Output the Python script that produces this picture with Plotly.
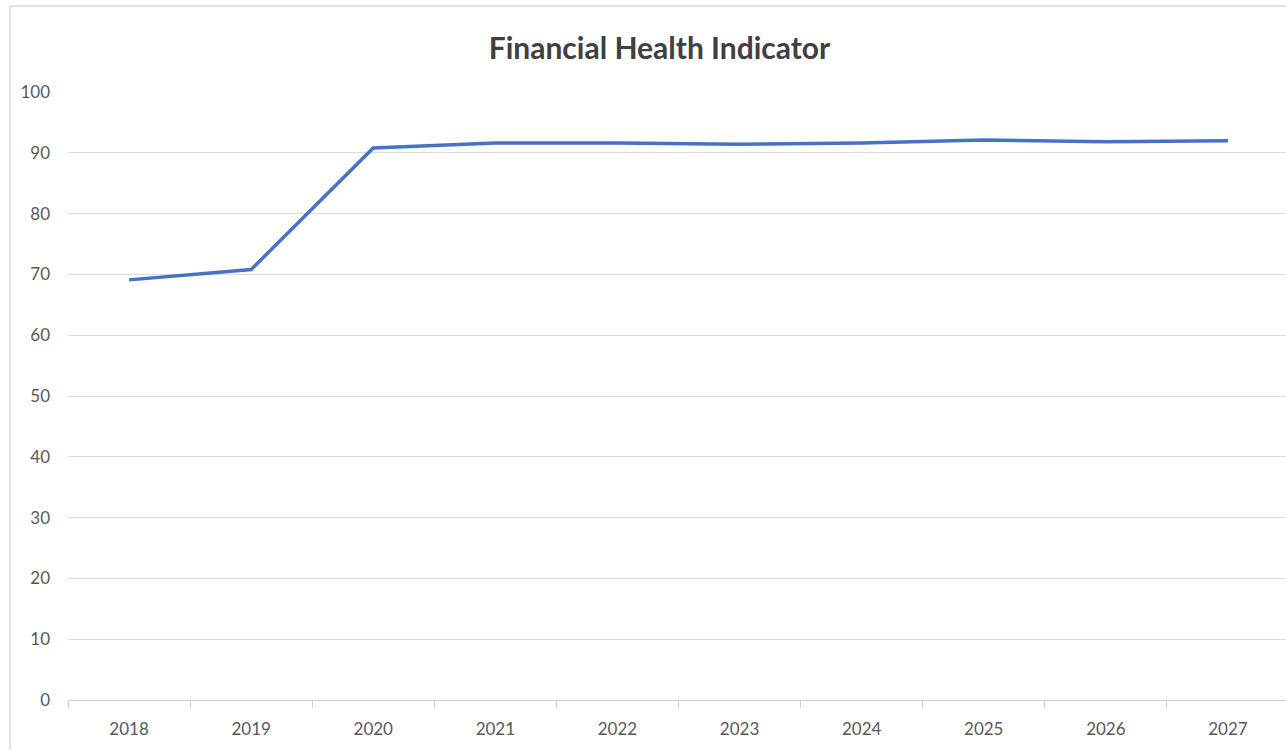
import plotly.graph_objects as go

years = ["2018", "2019", "2020", "2021", "2022", "2023", "2024", "2025", "2026", "2027"]
values = [69.1, 70.8, 90.8, 91.6, 91.6, 91.4, 91.6, 92.1, 91.8, 92.0]
y_ticks = [0, 10, 20, 30, 40, 50, 60, 70, 80, 90, 100]

W, H = 1286, 750
L, R, T, B = 68, 0, 92, 50
cat_w = 122.1
plot_w = W - L - R
FONT = "Lato, 'Open Sans', sans-serif"

fig = go.Figure()
fig.add_trace(go.Scatter(
    x=years, y=values, mode="lines",
    line=dict(color="#4472C4", width=3.5),
    showlegend=False, hoverinfo="x+y",
))

fig.update_layout(
    width=W, height=H,
    margin=dict(l=L, r=R, t=T, b=B),
    paper_bgcolor="white", plot_bgcolor="white",
    font=dict(family=FONT, color="#595959", size=17),
    title=dict(
        text="<b>Financial Health Indicator</b>",
        x=(487 + 832) / 2 / W, xanchor="center", xref="container",
        y=1 - 48 / H, yanchor="middle", yref="container",
        font=dict(size=30, color="#404040", family=FONT),
    ),
    xaxis=dict(
        type="category",
        range=[-0.5, -0.5 + plot_w / cat_w],
        showgrid=False,
        showline=True, linecolor="#d0d0d0", linewidth=1,
        ticks="outside", tickson="boundaries", ticklen=7, tickcolor="#d0d0d0",
        tickfont=dict(size=17, color="#595959", family=FONT),
        ticklabelstandoff=14,
        zeroline=False,
        fixedrange=True,
    ),
    yaxis=dict(
        range=[0, 100],
        tickvals=y_ticks,
        showgrid=True, gridcolor="#dcdcdc", gridwidth=1,
        showline=False, zeroline=False,
        ticks="", tickfont=dict(size=17, color="#595959", family=FONT),
        ticklabelstandoff=17,
        fixedrange=True,
    ),
)

# chart-area border (extends past the right and bottom edges as in the cropped reference)
fig.add_shape(
    type="rect", xref="paper", yref="paper",
    x0=(10 - L) / plot_w, x1=(W + 20 - L) / plot_w,
    y0=-(B + 20) / (H - T - B), y1=(H - 6 - B) / (H - T - B),
    line=dict(color="#d9d9d9", width=1.5), fillcolor="rgba(0,0,0,0)", layer="below",
)

fig.write_html("out.html", config={"displayModeBar": False})
